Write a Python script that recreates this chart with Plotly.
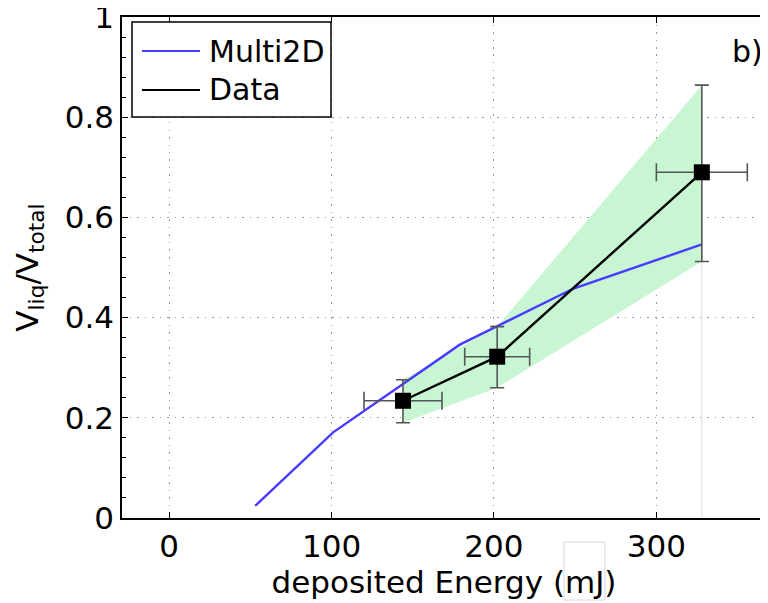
import plotly.graph_objects as go

# Multi2D simulation
sim_energy = [53, 101, 179, 249, 328]
sim_frac = [0.024, 0.171, 0.346, 0.458, 0.546]

# Measured data
data_energy = [144, 202, 328]
data_frac = [0.234, 0.322, 0.69]
data_xerr = [24, 20, 28]
data_yerr_plus = [0.042, 0.06, 0.174]
data_yerr_minus = [0.044, 0.062, 0.178]

x_ticks = [0, 100, 200, 300]
y_ticks = [0, 0.2, 0.4, 0.6, 0.8, 1]
y_ticklabels = ["0", "0.2", "0.4", "0.6", "0.8", "1"]

FONT = "DejaVu Sans"
GREEN = "rgb(200,246,210)"
BLUE = "rgb(72,58,255)"
ERR = "#555555"

upper = [v + p for v, p in zip(data_frac, data_yerr_plus)]
lower = [v - m for v, m in zip(data_frac, data_yerr_minus)]

fig = go.Figure()

# uncertainty band
fig.add_trace(go.Scatter(
    x=data_energy + data_energy[::-1],
    y=upper + lower[::-1],
    fill="toself", fillcolor=GREEN, line=dict(width=0),
    mode="lines", hoverinfo="skip", showlegend=False))

# faint vertical line under last point
fig.add_trace(go.Scatter(
    x=[data_energy[-1], data_energy[-1]], y=[0, lower[-1]],
    mode="lines", line=dict(color="#dddddd", width=1),
    hoverinfo="skip", showlegend=False))

fig.add_trace(go.Scatter(
    x=sim_energy, y=sim_frac, mode="lines", name="Multi2D",
    line=dict(color=BLUE, width=2.4), showlegend=False))

fig.add_trace(go.Scatter(
    x=data_energy, y=data_frac, mode="lines+markers", name="Data",
    line=dict(color="black", width=2.4),
    marker=dict(symbol="square", size=16, color="black"),
    error_x=dict(type="data", array=data_xerr, color=ERR, thickness=1.6, width=9),
    error_y=dict(type="data", array=data_yerr_plus, arrayminus=data_yerr_minus,
                 color=ERR, thickness=1.6, width=7),
    showlegend=False))

axis_common = dict(
    showline=True, linecolor="black", linewidth=1.5, mirror="allticks",
    ticks="inside", ticklen=6, tickwidth=1, tickcolor="black",
    showgrid=True, gridcolor="#999999", griddash="1.5px,6px", gridwidth=1,
    zeroline=False, tickfont=dict(family=FONT, size=31, color="black"),
    ticklabeloverflow="allow",
)

fig.update_xaxes(
    range=[-29, 367.5], tickvals=x_ticks, ticktext=[str(v) for v in x_ticks],
    title=dict(text="deposited Energy (mJ)", font=dict(family=FONT, size=31, color="black"),
               standoff=2),
    **axis_common)
fig.update_yaxes(
    range=[0, 1], tickvals=y_ticks, ticktext=y_ticklabels,
    minor=dict(dtick=0.04, ticks="inside", ticklen=4, tickcolor="black", showgrid=False),
    title=dict(text="V<sub>liq</sub>/V<sub>total</sub>",
               font=dict(family=FONT, size=31, color="black"), standoff=17),
    **axis_common)

# page has an 8px body margin: figure is sized so it ends at 768x603
OFF = 8
W, H = 760, 595
mt, mb, ml, mr = 17 - OFF, 85, 122 - OFF, 2
pw, ph = W - ml - mr, H - mt - mb


def px(x):
    return (x - OFF - ml) / pw


def py(y):
    return 1 - (y - OFF - mt) / ph


# manual legend
L, R, T, B = 132, 331, 22, 117
fig.add_shape(type="rect", xref="paper", yref="paper",
              x0=px(L), x1=px(R), y0=py(B), y1=py(T),
              line=dict(color="black", width=1.5), fillcolor="white", layer="above")
fig.add_shape(type="line", xref="paper", yref="paper",
              x0=px(142), x1=px(200), y0=py(51), y1=py(51),
              line=dict(color=BLUE, width=2.2), layer="above")
fig.add_shape(type="line", xref="paper", yref="paper",
              x0=px(142), x1=px(200), y0=py(90), y1=py(90),
              line=dict(color="black", width=2.2), layer="above")
for label, yy in [("Multi2D", 51), ("Data", 90)]:
    fig.add_annotation(text=label, xref="paper", yref="paper", x=px(207), y=py(yy),
                       xanchor="left", yanchor="middle", showarrow=False,
                       font=dict(family=FONT, size=30, color="black"))

fig.add_annotation(text="b)", xref="paper", yref="paper", x=px(747), y=py(52),
                   xanchor="center", yanchor="middle", showarrow=False,
                   font=dict(family=FONT, size=30, color="black"))

# faint box artifact around "mJ"
fig.add_shape(type="rect", xref="paper", yref="paper",
              x0=px(564), x1=px(605), y0=py(600), y1=py(542),
              line=dict(color="#d8d8d8", width=1), layer="above")

fig.update_layout(
    width=W, height=H,
    margin=dict(l=ml, r=mr, t=mt, b=mb, autoexpand=False),
    paper_bgcolor="white", plot_bgcolor="white",
    showlegend=False,
    font=dict(family=FONT, color="black"),
)

fig.write_html("out.html")
